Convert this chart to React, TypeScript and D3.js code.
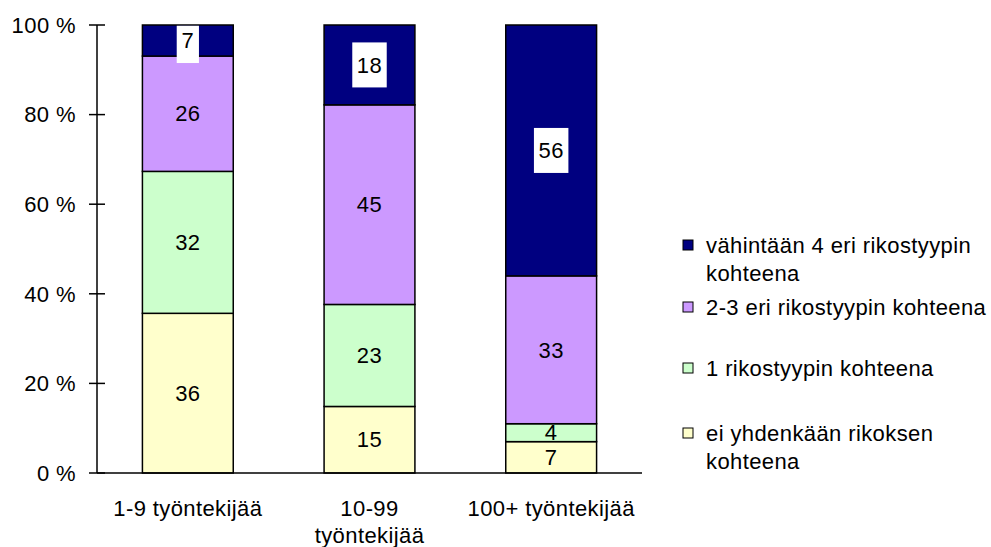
import React from "react";
import * as d3 from "d3";

const categories = ["1-9 työntekijää", "10-99\ntyöntekijää", "100+ työntekijää"];
const seriesNames = [
  "ei yhdenkään rikoksen\nkohteena",
  "1 rikostyypin kohteena",
  "2-3 eri rikostyypin kohteena",
  "vähintään 4 eri rikostyypin\nkohteena",
];
const seriesNone = [36, 15, 7];
const seriesOne = [32, 23, 4];
const seriesTwoThree = [26, 45, 33];
const seriesFourPlus = [7, 18, 56];
const seriesColors = ["#FFFFCC", "#CCFFCC", "#CC99FF", "#000080"];
const yTicks = [0, 20, 40, 60, 80, 100];

const W = 991;
const H = 547;
const FONT = "'Liberation Sans', Arial, sans-serif";
const FS = 22;

export default function App() {
  const allSeries = [seriesNone, seriesOne, seriesTwoThree, seriesFourPlus];
  const rows = categories.map((c, i) => {
    const r: any = { cat: c };
    seriesNames.forEach((s, j) => (r[s] = allSeries[j][i]));
    return r;
  });
  const stacked = d3
    .stack<any>()
    .keys(seriesNames)
    .offset(d3.stackOffsetExpand)(rows);

  const x = d3
    .scaleBand<string>()
    .domain(categories)
    .range([97, 642])
    .paddingInner(0.5)
    .paddingOuter(0.25);
  const y = d3.scaleLinear().domain([0, 100]).range([473, 25]);

  const legendY = [433, 368, 307, 245];

  return (
    <svg
      width={W}
      height={H}
      style={{ position: "absolute", left: 0, top: 0, background: "#fff" }}
      fontFamily={FONT}
      fontSize={FS}
      letterSpacing={0.4}
    >
      {/* bars */}
      {stacked.map((layer, j) => (
        <g key={j}>
          {layer.map((d, i) => {
            const x0 = x(categories[i])!;
            const yTop = y(d[1] * 100);
            const yBot = y(d[0] * 100);
            return (
              <rect
                key={i}
                x={x0}
                y={yTop}
                width={x.bandwidth()}
                height={yBot - yTop}
                fill={seriesColors[j]}
                stroke="#000"
                strokeWidth={1.5}
              />
            );
          })}
        </g>
      ))}
      {/* labels */}
      {stacked.map((layer, j) => (
        <g key={"l" + j}>
          {layer.map((d, i) => {
            const cx = x(categories[i])! + x.bandwidth() / 2;
            const cy = (y(d[1] * 100) + y(d[0] * 100)) / 2;
            const txt = String(allSeries[j][i]);
            const tw = txt.length * 0.556 * FS;
            const top = Math.max(cy - 22.5, y(100) + 0.75);
            return (
              <g key={i}>
                {j === 3 && (
                  <rect
                    x={cx - tw / 2 - 5}
                    y={top}
                    width={tw + 10}
                    height={cy + 22.5 - top}
                    fill="#fff"
                  />
                )}
                <text x={cx} y={cy} dy="0.35em" textAnchor="middle" fill="#000">
                  {txt}
                </text>
              </g>
            );
          })}
        </g>
      ))}
      {/* y axis */}
      <line x1={97} x2={97} y1={y(100)} y2={y(0)} stroke="#000" strokeWidth={1.5} />
      {yTicks.map((t) => (
        <g key={t}>
          <line x1={89} x2={105} y1={y(t)} y2={y(t)} stroke="#000" strokeWidth={1.5} />
          <text x={76} y={y(t)} dy="0.35em" textAnchor="end">
            {t} %
          </text>
        </g>
      ))}
      {/* x axis */}
      <line x1={97} x2={642} y1={y(0)} y2={y(0)} stroke="#000" strokeWidth={1.5} />
      {categories.map((c) => {
        const cx = x(c)! + x.bandwidth() / 2;
        return (
          <text key={c} x={cx} y={516} textAnchor="middle">
            {c.split("\n").map((ln, k) => (
              <tspan key={k} x={cx} dy={k === 0 ? 0 : 27}>
                {ln}
              </tspan>
            ))}
          </text>
        );
      })}
      {/* legend */}
      {seriesNames.map((s, j) => (
        <g key={s}>
          <rect
            x={683}
            y={legendY[j] - 5}
            width={10}
            height={10}
            fill={seriesColors[j]}
            stroke="#000"
            strokeWidth={1}
          />
          <text x={706} y={legendY[j]}>
            {s.split("\n").map((ln, k) => (
              <tspan key={k} x={706} dy={k === 0 ? "0.35em" : 28}>
                {ln}
              </tspan>
            ))}
          </text>
        </g>
      ))}
    </svg>
  );
}
